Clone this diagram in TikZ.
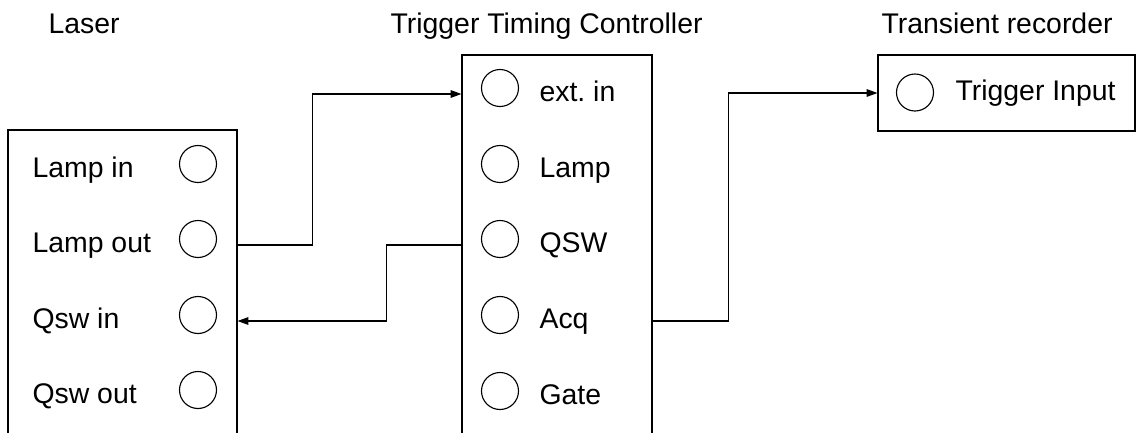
\documentclass[tikz,border=0pt]{standalone}
\usepackage{fontspec}
\setmainfont{Liberation Sans}
\usepackage{tikz}
\usetikzlibrary{arrows.meta, fit}
\frenchspacing

\begin{document}
\begin{tikzpicture}[
    x=0.0125cm, y=-0.0125cm,
    font=\fontsize{10.1}{12}\selectfont,
    box/.style={draw, inner sep=0pt},
    port/.style={draw, circle, minimum size=0.4625cm, inner sep=0pt},
    lbl/.style={anchor=mid west, inner sep=0pt},
    heading/.style={anchor=base west, inner sep=0pt},
    wire/.style={-{Triangle[length=1.35mm, width=0.95mm]}}
  ]
  \useasboundingbox (0,0) rectangle (1136,432);
  \clip (0,0) rectangle (1136,432);

  % laser
  \node[heading] (laserT) at (48,33) {Laser};
  \node[box, fit={(8,130) (237,445)}] (laser) {};
  \foreach \y/\t/\n in {164/Lamp in/lampin, 239/Lamp out/lampout,
                        315/Qsw in/qswin, 390/Qsw out/qswout} {
    \node[port] (\n-p) at (198,\y) {};
    \node[lbl] (\n) at (32,\y+6) {\t};
  }

  % trigger timing controller
  \node[heading] (ttcT) at (390,33) {Trigger Timing Controller};
  \node[box, fit={(462,55) (652,445)}] (ttc) {};
  \foreach \y/\t/\n in {88/ext.\ in/extin, 164/Lamp/lamp, 239/QSW/qsw,
                        315/Acq/acq, 391/Gate/gate} {
    \node[port] (\n-p) at (500,\y) {};
    \node[lbl] (\n) at (539,\y+6) {\t};
  }

  % transient recorder
  \node[heading] (trT) at (881,33) {Transient recorder};
  \node[box, fit={(878,55) (1135,131)}] (tr) {};
  \node[port] (trig-p) at (915,92.5) {};
  \node[lbl] (trig) at (955,93) {Trigger Input};

  % wiring
  \draw[wire] (laser.east |- lampout.mid) -- ++(75,0) |- (ttc.west |- extin.mid);
  \draw[wire] (ttc.west |- qsw.mid) -- ++(-75,0) |- (laser.east |- qswin.mid);
  \draw[wire] (ttc.east |- acq.mid) -- ++(76,0) |- (tr.west |- trig.mid);
\end{tikzpicture}
\end{document}
